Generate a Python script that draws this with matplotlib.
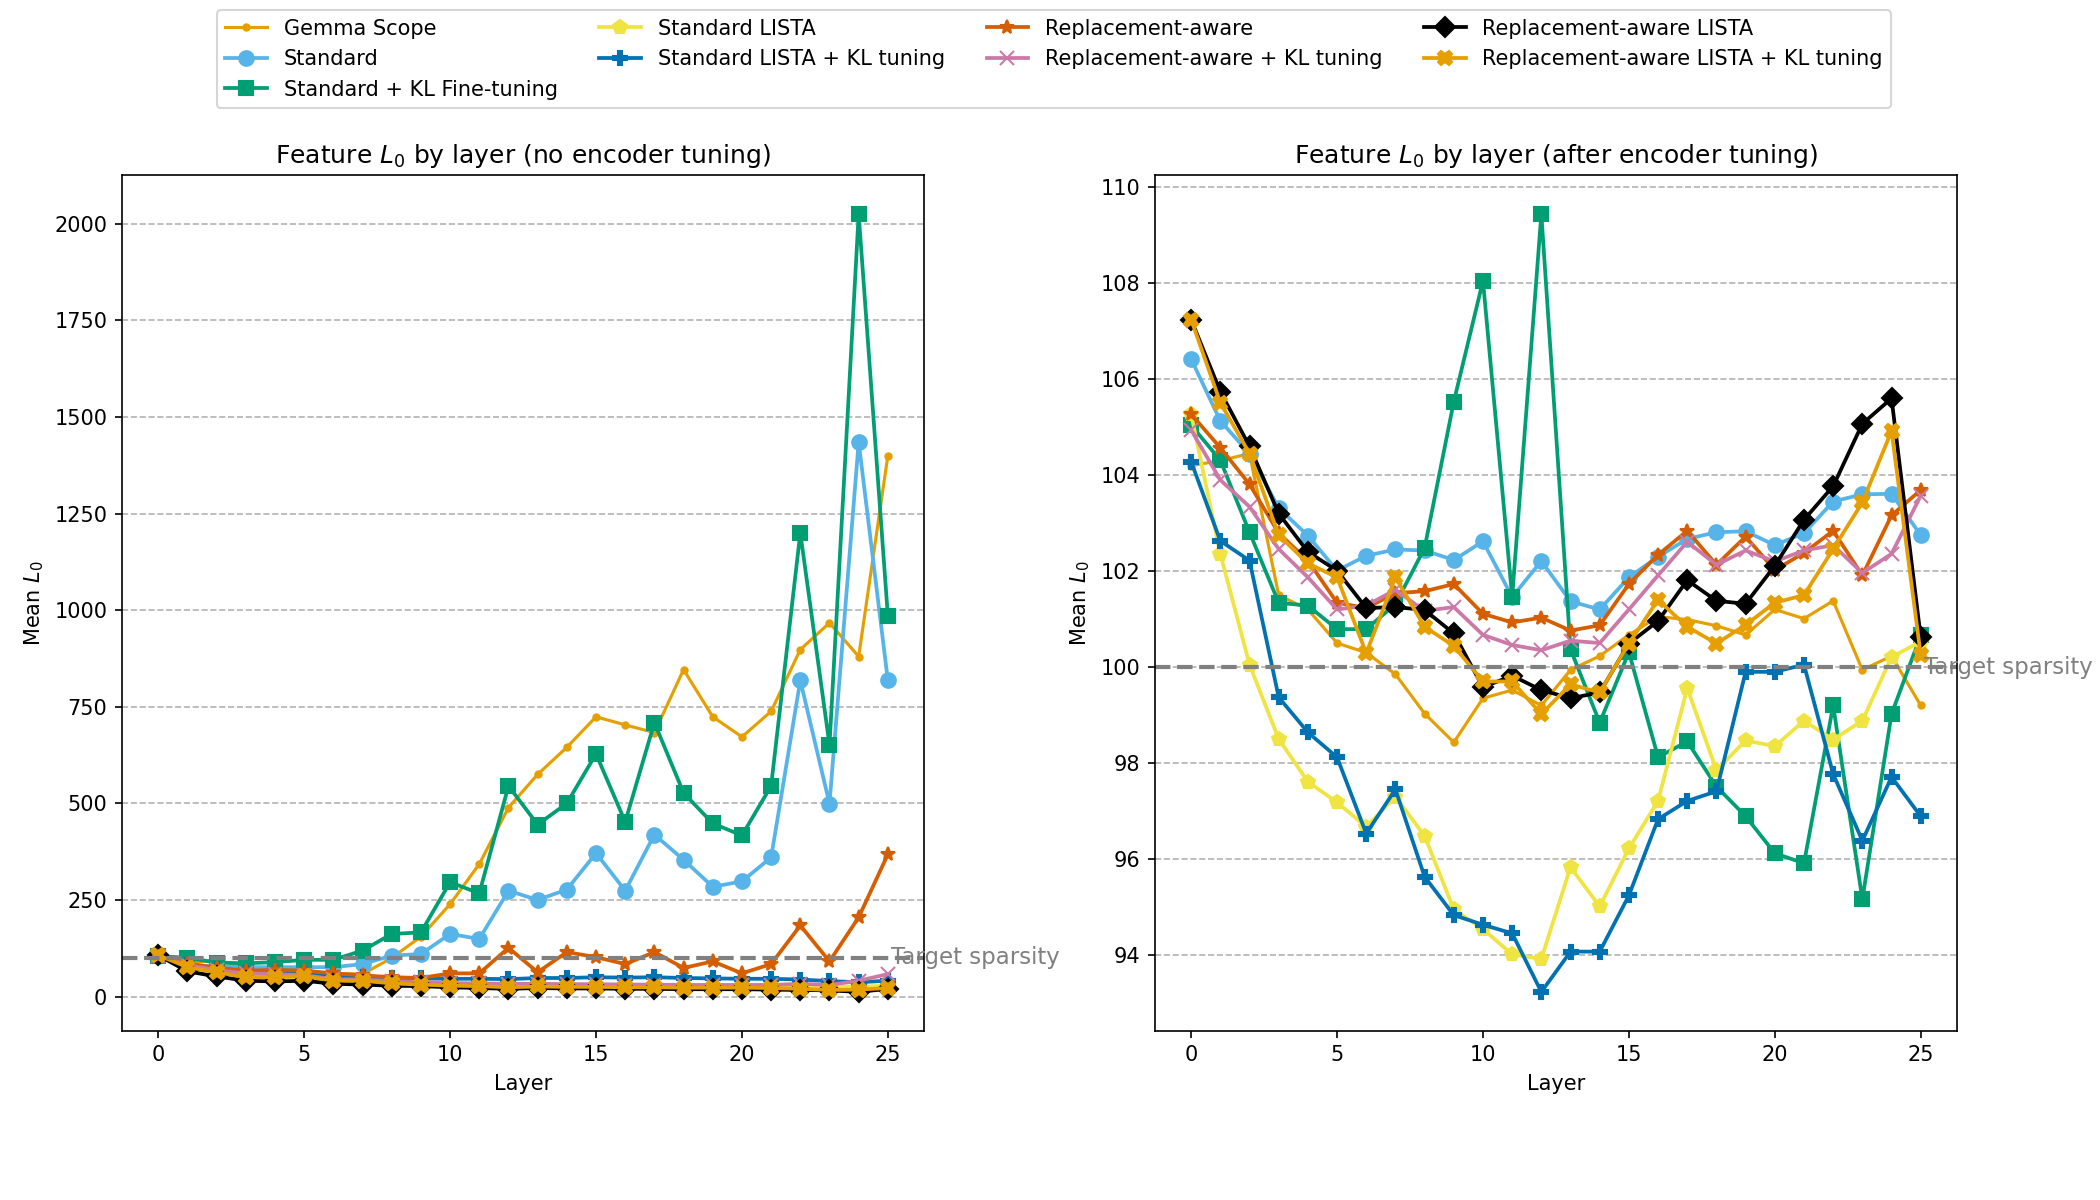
import matplotlib
matplotlib.use("Agg")
import matplotlib.pyplot as plt

layers = list(range(26))

names = [
    "Gemma Scope",
    "Standard",
    "Standard + KL Fine-tuning",
    "Standard LISTA",
    "Standard LISTA + KL tuning",
    "Replacement-aware",
    "Replacement-aware + KL tuning",
    "Replacement-aware LISTA",
    "Replacement-aware LISTA + KL tuning",
]
colors = ["#E69F00", "#56B4E9", "#009E73", "#F0E442", "#0072B2",
          "#D55E00", "#CC79A7", "#000000", "#E69F00"]
markers = [".", "o", "s", "p", "P", "*", "x", "D", "X"]

# no encoder tuning
gemma_l = [104, 85, 95, 75, 70, 65, 60, 58, 100, 155, 239, 343, 489, 575, 645, 724,
           703, 683, 846, 724, 672, 738, 898, 967, 880, 1400]
standard_l = [106, 80, 78, 76, 76, 76, 76, 84, 106, 110, 162, 149, 274, 250, 277, 371,
              274, 419, 354, 284, 298, 360, 818, 499, 1435, 818]
stdkl_l = [105, 100, 88, 86, 89, 95, 95, 119, 162, 166, 296, 267, 545, 445, 500, 628,
           452, 709, 527, 448, 417, 545, 1200, 651, 2025, 985]
lista_l = [105, 75, 62, 52, 50, 50, 42, 40, 36, 34, 32, 31, 30, 30, 30, 29,
           29, 29, 28, 28, 28, 27, 27, 26, 26, 28]
listakl_l = [104, 82, 72, 62, 60, 58, 52, 50, 48, 47, 46, 46, 45, 48, 48, 50,
             49, 50, 48, 47, 46, 46, 44, 40, 37, 41]
ra_l = [105, 85, 75, 67, 69, 67, 60, 55, 50, 48, 60, 60, 126, 63, 115, 102,
        84, 115, 74, 91, 60, 84, 184, 91, 205, 368]
rakl_l = [105, 82, 68, 60, 58, 55, 45, 44, 40, 38, 35, 34, 33, 33, 32, 32,
          31, 31, 30, 30, 30, 30, 33, 30, 41, 58]
ralista_l = [107, 65, 52, 41, 39, 41, 33, 31, 28, 27, 24, 22, 20, 22, 21, 21,
             20, 20, 19, 19, 19, 18, 17, 16, 12, 20]
ralistakl_l = [107, 76, 63, 50, 50, 53, 41, 41, 34, 31, 28, 27, 24, 26, 25, 25,
               24, 24, 23, 23, 23, 22, 20, 17, 18, 22]

# after encoder tuning
gemma_r = [104.2, 104.3, 104.45, 101.5, 101.2, 100.5, 100.3, 99.85, 99.03, 98.43, 99.35,
           99.52, 99.2, 99.94, 100.23, 100.67, 101.05, 100.99, 100.86, 100.67, 101.2,
           101.01, 101.38, 99.94, 100.23, 99.2]
standard_r = [106.42, 105.13, 104.45, 103.31, 102.74, 102.01, 102.32, 102.45, 102.43,
              102.23, 102.62, 101.46, 102.21, 101.37, 101.2, 101.87, 102.3, 102.67,
              102.81, 102.83, 102.54, 102.79, 103.45, 103.6, 103.61, 102.75]
stdkl_r = [105.04, 104.31, 102.81, 101.34, 101.28, 100.79, 100.79, 101.31, 102.48,
           105.53, 108.05, 101.46, 109.44, 100.37, 98.84, 100.31, 98.12, 98.45, 97.51,
           96.89, 96.12, 95.91, 99.2, 95.16, 99.02, 100.66]
lista_r = [105.27, 102.36, 100.05, 98.5, 97.61, 97.18, 96.67, 97.3, 96.48, 94.95, 94.54,
           94.01, 93.92, 95.83, 95.01, 96.22, 97.21, 99.56, 97.85, 98.47, 98.35, 98.88,
           98.49, 98.88, 100.21, 100.53]
listakl_r = [104.28, 102.63, 102.22, 99.37, 98.64, 98.12, 96.53, 97.45, 95.63, 94.83,
             94.63, 94.45, 93.23, 94.07, 94.07, 95.24, 96.83, 97.21, 97.41, 99.9, 99.9,
             100.05, 97.77, 96.38, 97.71, 96.89]
ra_r = [105.27, 104.57, 103.81, 102.79, 102.22, 101.34, 101.23, 101.54, 101.58, 101.73,
        101.11, 100.93, 101.03, 100.76, 100.87, 101.73, 102.34, 102.84, 102.13, 102.72,
        102.02, 102.38, 102.84, 101.91, 103.16, 103.69]
rakl_r = [104.94, 103.9, 103.34, 102.46, 101.87, 101.2, 101.28, 101.61, 101.17, 101.25,
          100.67, 100.46, 100.35, 100.55, 100.5, 101.2, 101.91, 102.61, 102.13, 102.43,
          102.2, 102.43, 102.54, 101.96, 102.36, 103.57]
ralista_r = [107.24, 105.74, 104.6, 103.2, 102.4, 102.01, 101.23, 101.25, 101.19, 100.7,
             99.58, 99.82, 99.52, 99.35, 99.47, 100.49, 100.96, 101.81, 101.38, 101.32,
             102.11, 103.07, 103.77, 105.07, 105.6, 100.62]
ralistakl_r = [107.24, 105.51, 104.45, 102.75, 102.16, 101.87, 100.29, 101.87, 100.84,
               100.44, 99.7, 99.7, 99.02, 99.64, 99.47, 100.49, 101.4, 100.84, 100.49,
               100.88, 101.34, 101.5, 102.46, 103.43, 104.92, 100.25]

left_series = [gemma_l, standard_l, stdkl_l, lista_l, listakl_l, ra_l, rakl_l,
               ralista_l, ralistakl_l]
right_series = [gemma_r, standard_r, stdkl_r, lista_r, listakl_r, ra_r, rakl_r,
                ralista_r, ralistakl_r]

target = 100

fig, axes = plt.subplots(1, 2, figsize=(14, 8), dpi=150)
plt.subplots_adjust(left=0.058, right=0.932, bottom=0.141, top=0.854, wspace=0.287)

titles = ["Feature $L_0$ by layer (no encoder tuning)",
          "Feature $L_0$ by layer (after encoder tuning)"]

for ax, series, title in zip(axes, [left_series, right_series], titles):
    for name, vals, c, m in zip(names, series, colors, markers):
        if m == ".":
            ax.plot(layers, vals, color=c, marker=m, markersize=6, linewidth=1.5, label=name)
        else:
            ax.plot(layers, vals, color=c, marker=m, markersize=7, linewidth=1.8, label=name)
    ax.axhline(target, color="gray", linestyle="--", linewidth=2)
    ax.text(25.1, target, "Target sparsity", color="gray", fontsize=11, va="center")
    ax.grid(axis="y", linestyle="--", color="gray", alpha=0.6)
    ax.set_title(title, fontsize=12)
    ax.set_xlabel("Layer")
    ax.set_ylabel("Mean $L_0$")

handles, labels = axes[0].get_legend_handles_labels()
fig.legend(handles, labels, loc="upper center", ncol=4, fontsize=10,
           bbox_to_anchor=(0.502, 1.0))

fig.savefig("out.png", dpi=150)
